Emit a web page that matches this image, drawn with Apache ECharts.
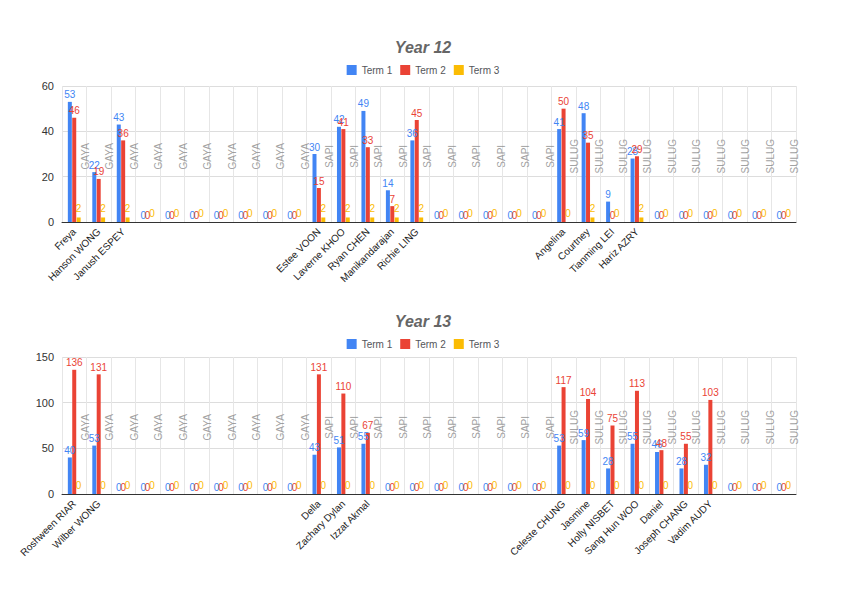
<!DOCTYPE html>
<html><head><meta charset="utf-8">
<script src="https://cdn.jsdelivr.net/npm/echarts@6/dist/echarts.min.js"></script>
<style>html,body{margin:0;background:#fff}#c{width:846px;height:591px}</style>
</head><body><div id="c"></div>
<script>
// 30 slots: 10 GAYA, 10 SAPI, 10 SULUG
const groups = [].concat(Array(10).fill('GAYA'), Array(10).fill('SAPI'), Array(10).fill('SULUG'));
const names12 = ['Freya','Hanson WONG','Janush ESPEY','','','','','','','',
  'Estee VOON','Laverne KHOO','Ryan CHEN','Manikandarajan','Richie LING','','','','','',
  'Angelina','Courtney','Tianming LEI','Hariz AZRY','','','','','',''];
const t1_12 = [53,22,43,0,0,0,0,0,0,0, 30,42,49,14,36,0,0,0,0,0, 41,48,9,28,0,0,0,0,0,0];
const t2_12 = [46,19,36,0,0,0,0,0,0,0, 15,41,33,7,45,0,0,0,0,0, 50,35,0,29,0,0,0,0,0,0];
const t3_12 = [2,2,2,0,0,0,0,0,0,0, 2,2,2,2,2,0,0,0,0,0, 0,2,0,2,0,0,0,0,0,0];
const names13 = ['Roshween RIAR','Wilber WONG','','','','','','','','',
  'Della','Zachary Dylan','Izzat Akmal','','','','','','','',
  'Celeste CHUNG','Jasmine','Holly NISBET','Sang Hun WOO','Daniel','Joseph CHANG','Vadim AUDY','','',''];
const t1_13 = [40,53,0,0,0,0,0,0,0,0, 43,51,55,0,0,0,0,0,0,0, 53,59,28,55,46,28,32,0,0,0];
const t2_13 = [136,131,0,0,0,0,0,0,0,0, 131,110,67,0,0,0,0,0,0,0, 117,104,75,113,48,55,103,0,0,0];
const t3_13 = Array(30).fill(0);

const colors = ['#4285f4','#ea4335','#fbbc04'];
const cats = names12.map((_, i) => 'c' + i);

function axes(names, gi, max, interval) {
  return {
    x: {type:'category', gridIndex:gi, data:cats,
      axisTick:{show:false}, axisLine:{lineStyle:{color:'#333'}},
      splitLine:{show:true, lineStyle:{color:'#e6e6e6'}},
      axisLabel:{interval:0, rotate:45, fontSize:10, color:'#222', formatter:(v)=>names[+v.slice(1)]}},
    y: {type:'value', gridIndex:gi, min:0, max:max, interval:interval,
      axisLabel:{fontSize:11, color:'#333'}, splitLine:{lineStyle:{color:'#ddd'}}}
  };
}
const a12 = axes(names12, 0, 60, 20), a13 = axes(names13, 1, 150, 50);

function bars(data, ci, gi) {
  return {name:['Term 1','Term 2','Term 3'][ci], type:'bar', xAxisIndex:gi, yAxisIndex:gi,
    data:data, barWidth:4, barGap:'10%', itemStyle:{color:colors[ci]},
    label:{show:true, position:'top', distance:ci===2?4:2, fontSize:10, color:colors[ci]}};
}
function groupLabels(gi, y) {
  return {type:'scatter', xAxisIndex:gi, yAxisIndex:gi, symbolSize:0, silent:true,
    data:groups.map((g, i) => ({value:['c'+i, y], name:g})),
    label:{show:true, rotate:90, offset:[0,11], formatter:(p)=>p.name, fontSize:10, color:'#888'}};
}

echarts.init(document.getElementById('c'), null, {renderer:'svg'}).setOption({
  animation:false,
  title:[
    {text:'Year 12', left:'center', top:34, textStyle:{fontSize:16, fontStyle:'italic', fontWeight:'bold', color:'#666'}},
    {text:'Year 13', left:'center', top:308, textStyle:{fontSize:16, fontStyle:'italic', fontWeight:'bold', color:'#666'}}
  ],
  legend:[
    {data:['Term 1','Term 2','Term 3'], top:60, itemWidth:10, itemHeight:10, icon:'rect', textStyle:{fontSize:10}},
    {data:['Term 1','Term 2','Term 3'], top:334, itemWidth:10, itemHeight:10, icon:'rect', textStyle:{fontSize:10}}
  ],
  grid:[
    {left:62, right:50, top:86, height:136},
    {left:62, right:50, top:357, height:137}
  ],
  xAxis:[a12.x, a13.x], yAxis:[a12.y, a13.y],
  series:[
    bars(t1_12,0,0), bars(t2_12,1,0), bars(t3_12,2,0), groupLabels(0, 29),
    bars(t1_13,0,1), bars(t2_13,1,1), bars(t3_13,2,1), groupLabels(1, 73)
  ]
});
</script></body></html>
